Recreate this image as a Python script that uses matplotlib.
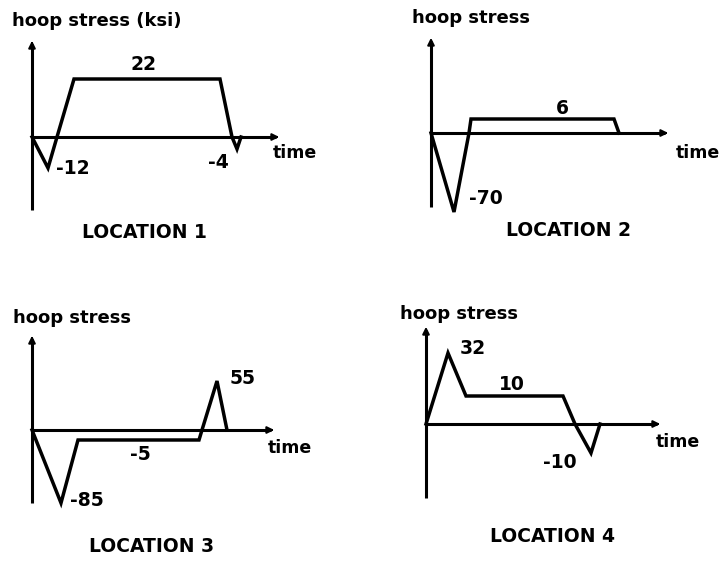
import matplotlib
matplotlib.use("Agg")
import matplotlib.pyplot as plt

# schematic stress histories (time, stress in sketch units)
loc1_time = [0, 16, 25, 42, 188, 200, 205, 209]
loc1_stress = [0, -31, 0, 58, 58, 0, -12, 0]
loc2_time = [0, 23, 38, 40, 183, 188]
loc2_stress = [0, -79, 0, 14, 14, 0]
loc3_time = [0, 29, 46, 167, 170, 185, 195]
loc3_stress = [0, -73, -10, -10, 0, 49, 0]
loc4_time = [0, 22, 40, 137, 149, 165, 174]
loc4_stress = [0, 71, 28, 28, 0, -29, 0]

titles = ["LOCATION 1", "LOCATION 2", "LOCATION 3", "LOCATION 4"]
ylabels = ["hoop stress (ksi)", "hoop stress", "hoop stress", "hoop stress"]
values = [["22", "-12", "-4"], ["6", "-70"], ["55", "-5", "-85"], ["32", "10", "-10"]]

W, H = 726, 562
fig = plt.figure(figsize=(W / 100, H / 100), dpi=100)

# panel layout: origin in pixels, axis extents, label anchors
panels = [
    dict(o=(32, 137), t=loc1_time, s=loc1_stress, ax=(250, 99, -73),
         vals=[(111, 72, "center"), (24, -31, "left"), (186, -26, "center")],
         time=(241, -16), yl=(-20, 116), loc=(112, -95)),
    dict(o=(431, 133), t=loc2_time, s=loc2_stress, ax=(240, 98, -74),
         vals=[(131, 25, "center"), (38, -65, "left")],
         time=(245, -20), yl=(-19, 115), loc=(138, -97)),
    dict(o=(32, 430), t=loc3_time, s=loc3_stress, ax=(245, 97, -73),
         vals=[(198, 52, "left"), (108, -24, "center"), (38, -71, "left")],
         time=(236, -18), yl=(-19, 112), loc=(120, -116)),
    dict(o=(426, 424), t=loc4_time, s=loc4_stress, ax=(237, 100, -74),
         vals=[(34, 75, "left"), (86, 40, "center"), (117, -39, "left")],
         time=(230, -18), yl=(-26, 110), loc=(127, -112)),
]

fkw = dict(family="DejaVu Sans", fontweight="bold", color="black")

for i, p in enumerate(panels):
    ox, oy = p["o"]
    x0, x1, y0, y1 = -40, 300, -130, 130
    ax = fig.add_axes([(ox + x0) / W, (H - oy + y0) / H, (x1 - x0) / W, (y1 - y0) / H])
    ax.set_xlim(x0, x1)
    ax.set_ylim(y0, y1)
    ax.axis("off")

    xend, ytop, ybot = p["ax"]
    # axes with arrow heads
    ax.plot([0, 0], [ybot, ytop - 6], color="black", lw=2.2, solid_capstyle="butt")
    ax.plot([0, xend - 6], [0, 0], color="black", lw=2.2, solid_capstyle="butt")
    ax.annotate("", xy=(0, ytop), xytext=(0, ytop - 10),
                arrowprops=dict(arrowstyle="-|>", color="black", lw=1.5, mutation_scale=10))
    ax.annotate("", xy=(xend, 0), xytext=(xend - 10, 0),
                arrowprops=dict(arrowstyle="-|>", color="black", lw=1.5, mutation_scale=10))

    ax.plot(p["t"], p["s"], color="black", lw=2.5, solid_joinstyle="miter")

    for txt, (vx, vy, ha) in zip(values[i], p["vals"]):
        ax.text(vx, vy, txt, ha=ha, va="center", fontsize=13.5, **fkw)

    ax.text(*p["time"], "time", ha="left", va="center", fontsize=12.5, **fkw)
    ax.text(*p["yl"], ylabels[i], ha="left", va="center", fontsize=13, **fkw)
    ax.text(*p["loc"], titles[i], ha="center", va="center", fontsize=13.5, **fkw)

fig.savefig("out.png", dpi=100)
